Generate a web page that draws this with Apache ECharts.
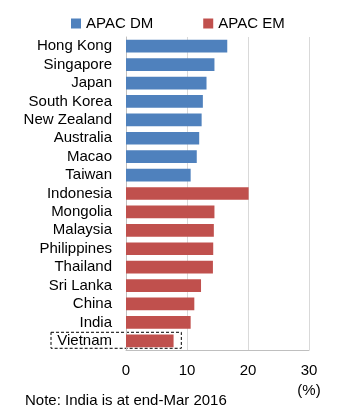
<!DOCTYPE html>
<html>
<head>
<meta charset="utf-8">
<script src="https://cdn.jsdelivr.net/npm/echarts@6/dist/echarts.min.js"></script>
<style>
  html, body { margin: 0; padding: 0; background: #fff; }
  #chart { width: 352px; height: 409px; }
</style>
</head>
<body>
<div id="chart"></div>
<script>
// categories top to bottom
const countries = ['Hong Kong', 'Singapore', 'Japan', 'South Korea', 'New Zealand', 'Australia', 'Macao', 'Taiwan',
  'Indonesia', 'Mongolia', 'Malaysia', 'Philippines', 'Thailand', 'Sri Lanka', 'China', 'India', 'Vietnam'];
// APAC DM values (developed), '-' where not applicable
const dmValues = [16.6, 14.5, 13.2, 12.6, 12.4, 12.0, 11.6, 10.6, '-', '-', '-', '-', '-', '-', '-', '-', '-'];
// APAC EM values (emerging)
const emValues = ['-', '-', '-', '-', '-', '-', '-', '-', 20.1, 14.5, 14.4, 14.3, 14.25, 12.3, 11.2, 10.6, 7.8];
const xTicks = [0, 10, 20, 30];

const FONT = '"Liberation Sans", Arial, sans-serif';
const chart = echarts.init(document.getElementById('chart'));

chart.setOption({
  animation: false,
  textStyle: {fontFamily: FONT},
  legend: {
    top: 11,
    left: 66,
    itemWidth: 10,
    itemHeight: 10,
    itemGap: 50,
    icon: 'rect',
    textStyle: {fontSize: 15, color: '#000', fontFamily: FONT},
    data: ['APAC DM', 'APAC EM']
  },
  grid: {left: 126, right: 43, top: 37, bottom: 59},
  xAxis: {
    type: 'value',
    min: xTicks[0],
    max: xTicks[xTicks.length - 1],
    interval: 10,
    axisLine: {show: true, lineStyle: {color: '#bfbfbf'}},
    axisTick: {show: false},
    axisLabel: {fontSize: 15, color: '#000', margin: 13, fontFamily: FONT},
    splitLine: {lineStyle: {color: '#d9d9d9'}}
  },
  yAxis: {
    type: 'category',
    inverse: true,
    data: countries,
    axisLine: {lineStyle: {color: '#bfbfbf'}},
    axisTick: {show: false},
    axisLabel: {fontSize: 15, color: '#000', margin: 14, interval: 0, fontFamily: FONT}
  },
  series: [
    {
      name: 'APAC DM', type: 'bar', data: dmValues, barWidth: '69%', barGap: '-100%',
      itemStyle: {color: '#4f81bd'}
    },
    {
      name: 'APAC EM', type: 'bar', data: emValues, barWidth: '69%', barGap: '-100%',
      itemStyle: {color: '#c0504d'}
    }
  ]
});

// dashed box round the Vietnam row, plus "(%)" and note
const vn = countries.length - 1;
const pRight = chart.convertToPixel({gridIndex: 0}, [9.07, vn]);
const pTick = chart.convertToPixel({gridIndex: 0}, [xTicks[3], vn]);
chart.setOption({
  graphic: [
    {
      type: 'rect',
      shape: {x: 51, y: pRight[1] - 8.5, width: pRight[0] - 51, height: 16},
      style: {fill: 'none', stroke: '#000', lineWidth: 1, lineDash: [3, 2]}
    },
    {
      type: 'text', x: pTick[0], y: 383,
      style: {text: '(%)', fontSize: 15, fill: '#000', align: 'center', fontFamily: FONT}
    },
    {
      type: 'text', x: 25, y: 393,
      style: {text: 'Note: India is at end-Mar 2016', fontSize: 15, fill: '#000', fontFamily: FONT}
    }
  ]
});
</script>
</body>
</html>
